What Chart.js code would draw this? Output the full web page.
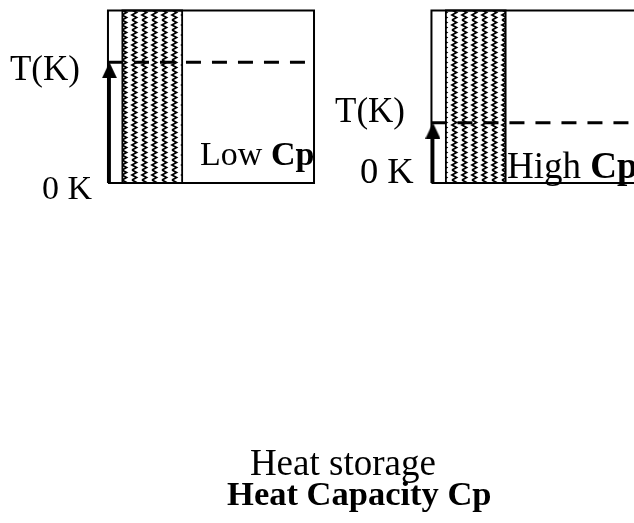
<!DOCTYPE html>
<html>
<head>
<meta charset="utf-8">
<script src="https://cdn.jsdelivr.net/npm/chart.js@4.4.1/dist/chart.umd.min.js"></script>
<style>
  html, body { margin: 0; padding: 0; background: #fff; }
  #wrap { width: 634px; height: 523px; }
</style>
</head>
<body>
<div id="wrap"><canvas id="heat-chart" width="634" height="523"></canvas></div>
<script>
// two panels, box height = 100 (0 K at the bottom)
const panels = ["Low", "High"]
const panelStart = [0, 157]        // x offset of each panel box
const boxWidth = 100
const boxTop = 100
const tLevel = [70, 35]             // temperature reached for the same heat
const storageBand = [7, 36]         // hatched heat storage column inside a box

// labels: [text, bold part, x, y, size, align]
const labels = [
    ["T(K)", "", -47.6, 60, 35, "left"],
    ["0 K", "", -32, -9.5, 34, "left"],
    ["Low ", "Cp", 44.7, 10.4, 34, "left"],
    ["T(K)", "", 110.2, 35.4, 35, "left"],
    ["0 K", "", 122.3, 0, 36.5, "left"],
    ["High ", "Cp", 193.7, 2.9, 37, "left"],
    ["Heat storage", "", 114, -169.3, 37, "center"],
    ["", "Heat Capacity Cp", 57.8, -186.7, 34.5, "left"]
]

function makeZigzag(){
    const c = document.createElement("canvas")
    c.width = 10
    c.height = 10
    const g = c.getContext("2d")
    g.fillStyle = "#fff"
    g.fillRect(0, 0, 10, 10)
    g.strokeStyle = "#000"
    g.lineWidth = 1.8
    g.beginPath()
    g.moveTo(2, 0)
    g.lineTo(6.5, 2.5)
    g.lineTo(2, 5)
    g.lineTo(6.5, 7.5)
    g.lineTo(2, 10)
    g.stroke()
    return g.createPattern(c, "repeat")
}

function makeArrowHead(){
    const c = document.createElement("canvas")
    c.width = 15
    c.height = 16
    const g = c.getContext("2d")
    g.fillStyle = "#000"
    g.beginPath()
    g.moveTo(7.5, 0)
    g.lineTo(15, 16)
    g.lineTo(0, 16)
    g.closePath()
    g.fill()
    return c
}

const datasets = []
const zigzag = makeZigzag()
const arrowHead = makeArrowHead()

panels.forEach((name, i) => {
    const x0 = panelStart[i]
    // hatched storage column (drawn first, underneath)
    const a = x0 + storageBand[0]
    const b = x0 + storageBand[1]
    datasets.push({
        label: name + " storage",
        data: [{x: a, y: 0}, {x: b, y: 0}, {x: b, y: boxTop}, {x: a, y: boxTop}, {x: a, y: 0}],
        borderColor: "#000",
        borderWidth: 1.8,
        backgroundColor: zigzag,
        pointRadius: 0,
        showLine: true,
        fill: "shape",
        order: 4
    })
    // outer box
    datasets.push({
        label: name + " box",
        data: [{x: x0, y: 0}, {x: x0 + boxWidth, y: 0}, {x: x0 + boxWidth, y: boxTop}, {x: x0, y: boxTop}, {x: x0, y: 0}],
        borderColor: "#000",
        borderWidth: 2,
        pointRadius: 0,
        showLine: true,
        fill: false,
        order: 3
    })
    // dashed temperature line
    datasets.push({
        label: name + " T",
        data: [{x: x0, y: tLevel[i]}, {x: x0 + boxWidth, y: tLevel[i]}],
        borderColor: "#000",
        borderWidth: 3,
        borderDash: [15, 11],
        pointRadius: 0,
        showLine: true,
        fill: false,
        order: 2
    })
    // arrow 0 K -> T
    datasets.push({
        label: name + " arrow",
        data: [{x: x0 + 0.7, y: 0}, {x: x0 + 0.7, y: tLevel[i] - 4.6}],
        borderColor: "#000",
        backgroundColor: "#000",
        borderWidth: 3,
        pointStyle: [false, arrowHead],
        pointRadius: [0, 8],
        showLine: true,
        fill: false,
        order: 1
    })
})

const textPlugin = {
    id: "diagramText",
    afterDatasetsDraw(chart){
        const ctx = chart.ctx
        const xs = chart.scales.x
        const ys = chart.scales.y
        ctx.save()
        ctx.fillStyle = "#000"
        ctx.textBaseline = "alphabetic"
        labels.forEach(([plain, bold, x, y, size, align]) => {
            const px = xs.getPixelForValue(x)
            const py = ys.getPixelForValue(y)
            ctx.font = size + "px 'Liberation Serif'"
            const w1 = ctx.measureText(plain).width
            ctx.font = "bold " + size + "px 'Liberation Serif'"
            const w2 = ctx.measureText(bold).width
            let left = px
            if(align == "center") left = px - (w1 + w2) / 2
            ctx.textAlign = "left"
            ctx.font = size + "px 'Liberation Serif'"
            ctx.fillText(plain, left, py)
            ctx.font = "bold " + size + "px 'Liberation Serif'"
            ctx.fillText(bold, left + w1, py)
        })
        ctx.restore()
    }
}

new Chart("heat-chart", {
    type: "scatter",
    data: { datasets: datasets },
    options: {
        responsive: false,
        animation: false,
        devicePixelRatio: 1,
        layout: { padding: 0, autoPadding: false },
        clip: false,
        plugins: {
            legend: { display: false },
            tooltip: { enabled: false }
        },
        elements: { line: { tension: 0 } },
        scales: {
            x: { type: "linear", display: false, min: -52.4, max: 255.3 },
            y: { type: "linear", display: false, min: -197.1, max: 106.1 }
        }
    },
    plugins: [textPlugin]
})
</script>
</body>
</html>
